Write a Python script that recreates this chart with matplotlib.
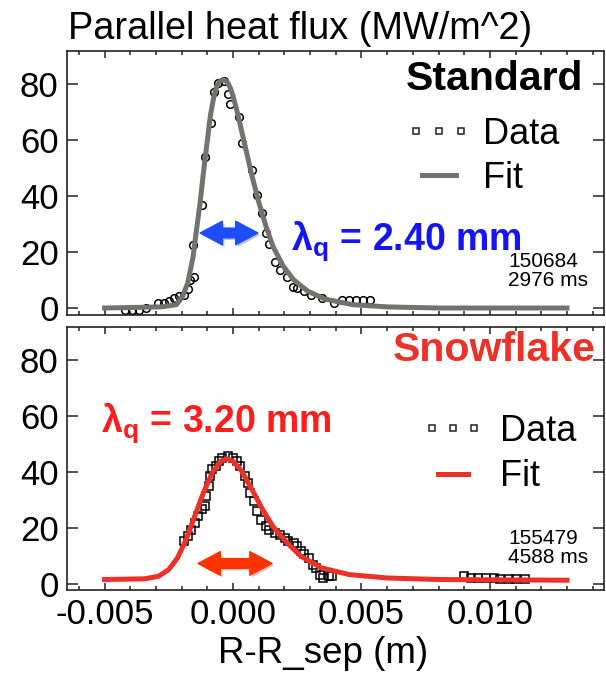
import matplotlib
matplotlib.use('Agg')
import matplotlib.pyplot as plt
import matplotlib.patheffects as pe
from matplotlib.lines import Line2D
from matplotlib.legend_handler import HandlerLine2D
from matplotlib.ticker import MultipleLocator

plt.rcParams['font.family'] = ['Liberation Sans', 'DejaVu Sans']
plt.rcParams['axes.unicode_minus'] = False
plt.rcParams['mathtext.fontset'] = 'custom'
plt.rcParams['mathtext.rm'] = 'Liberation Sans'
plt.rcParams['mathtext.bf'] = 'Liberation Sans:bold'
plt.rcParams['mathtext.it'] = 'Liberation Sans:italic'

# standard divertor, shot 150684
std_x = [-0.00419, -0.00392, -0.00365, -0.00338, -0.00291, -0.0027, -0.0025, -0.0023,
         -0.00209, -0.0019, -0.00175, -0.00167, -0.00151, -0.00157, -0.00122, -0.00109,
         -0.00086, -0.00073, -0.0006, -0.00036, -0.00018, -0.00012, 0.00025, 0.00034,
         0.00073, 0.00092, 0.00112, 0.00128, 0.00142, 0.00163, 0.00182, 0.00209,
         0.00235, 0.0025, 0.00277, 0.00304, 0.00345, 0.00392, 0.00426, 0.00453,
         0.0048, 0.00507, 0.00534]
std_y = [-0.6, -0.8, -0.6, 0.0, 1.8, 1.8, 2.4, 3.6,
         4.2, 4.8, 6.8, 10.0, 11.2, 22.5, 36.8, 54.0,
         66.2, 77.0, 80.3, 81.0, 76.4, 72.9, 68.1, 58.8,
         49.3, 40.4, 33.8, 26.7, 23.0, 16.5, 13.7, 11.2,
         7.6, 7.2, 6.0, 4.8, 3.6, 1.8, 3.0, 2.8,
         2.8, 2.8, 2.8]
std_fit_x = [-0.0050, -0.0028, -0.0022, -0.00196, -0.00176, -0.00155, -0.00142, -0.00128,
             -0.00115, -0.00101, -0.00088, -0.00074, -0.00064, -0.00054, -0.00045, -0.00036,
             -0.00028, -0.0002, -0.0001, 0.0, 0.0002, 0.00047, 0.00074, 0.00101, 0.00128,
             0.00155, 0.00196, 0.00236, 0.00291, 0.00358, 0.00466, 0.00601, 0.00804, 0.0130]
std_fit_y = [0.0, 0.4, 1.2, 4.2, 9.0, 18.5, 28.0, 37.6,
             48.4, 59.0, 68.7, 75.8, 78.8, 80.6, 81.4, 81.5,
             81.2, 80.4, 78.5, 75.8, 68.7, 57.9, 47.2, 37.6, 29.3,
             22.1, 14.9, 10.1, 6.0, 3.2, 1.2, 0.4, 0.0, 0.0]

# snowflake divertor, shot 155479
sf_x = [-0.00189, -0.00176, -0.00162, -0.00149, -0.00135, -0.00122, -0.00108, -0.00104,
        -0.00095, -0.00088, -0.00081, -0.00068, -0.00054, -0.00041, -0.0002, 0.0,
        0.00014, 0.00027, 0.00047, 0.00058, 0.00068, 0.00081, 0.00095, 0.00108,
        0.00128, 0.00142, 0.00162, 0.00182, 0.00203, 0.00216, 0.00236, 0.0025,
        0.00264, 0.00277, 0.00297, 0.00311, 0.00324, 0.00338, 0.00351, 0.00372,
        0.00385,
        0.00899, 0.00926, 0.00953, 0.00986, 0.01014, 0.0104, 0.01074, 0.01101, 0.01135]
sf_y = [15.3, 17.0, 19.4, 21.8, 24.2, 26.6, 27.8, 31.4,
        34.9, 38.5, 40.9, 42.1, 43.9, 45.1, 45.7, 45.1,
        43.9, 42.1, 38.5, 36.1, 32.5, 29.6, 26.0, 23.0,
        20.6, 19.4, 18.2, 17.6, 16.5, 15.3, 14.7, 13.5,
        11.7, 10.5, 9.3, 6.9, 5.7, 3.3, 2.1, 2.7,
        2.7,
        2.7, 2.1, 2.1, 2.1, 2.1, 1.8, 1.8, 1.8, 1.8]
sf_fit_x = [-0.0050, -0.00345, -0.0029, -0.0025, -0.00216, -0.00182, -0.00149, -0.00115,
            -0.00081, -0.00047, -0.00024, 0.0, 0.00034, 0.00074, 0.00115, 0.00155,
            0.0021, 0.00264, 0.00345, 0.00453, 0.00601, 0.00804, 0.0130]
sf_fit_y = [1.55, 1.8, 2.7, 5.1, 9.3, 15.9, 24.2, 32.6,
            39.7, 43.9, 44.7, 43.9, 40.3, 33.7, 26.6, 20.6,
            14.7, 9.9, 5.7, 3.3, 2.1, 1.55, 1.3]

std_arrow_x = [-0.00128, 0.00097]
std_arrow_y = 26.8
sf_arrow_x = [-0.00136, 0.00152]
sf_arrow_y = 7.3

gray = '#6f746c'
red = '#ec3228'
blue_txt = '#1414f5'
blue_arrow = '#1e4cff'
red_txt = '#ff1e1e'
red_arrow = '#ff3300'


def style(ax, ylo):
    ax.set_xlim(-0.00646, 0.01444)
    ax.set_ylim(ylo, 91.8)
    ax.set_yticks([0, 20, 40, 60, 80])
    ax.xaxis.set_major_locator(MultipleLocator(0.005))
    ax.xaxis.set_minor_locator(MultipleLocator(0.001))
    ax.tick_params(axis='both', which='both', direction='in', top=True, right=True,
                   labelsize=25, width=1.1, color='#222222')
    ax.tick_params(axis='y', which='major', length=8, pad=6)
    ax.tick_params(axis='x', which='major', length=5, pad=6)
    ax.tick_params(axis='x', which='minor', length=3)
    for s in ax.spines.values():
        s.set_linewidth(1.2)
        s.set_color('#222222')


def double_arrow(ax, xs, y, color):
    c = (xs[0] + xs[1]) / 2
    for end in xs:
        ax.annotate('', xy=(end, y), xytext=(c, y),
                    arrowprops=dict(arrowstyle='simple,head_length=1.6,head_width=1.7,tail_width=0.7',
                                    mutation_scale=10, color=color, shrinkA=0, shrinkB=0,
                                    path_effects=[pe.SimplePatchShadow(offset=(1.5, -1.5), alpha=0.25),
                                                  pe.Normal()]))


fig = plt.figure(figsize=(6.06, 6.74), dpi=100)
ax1 = fig.add_axes([0.1106, 0.5326, 0.8861, 0.3917])
ax2 = fig.add_axes([0.1106, 0.1246, 0.8861, 0.3902])

# top panel
ax1.plot(std_x, std_y, 'o', ms=5.5, mfc='none', mec='black', mew=1.1)
ax1.plot(std_fit_x, std_fit_y, '-', color=gray, lw=3.6)
style(ax1, -2.5)
ax1.tick_params(labelbottom=False)
ax1.text(0.961, 0.852, 'Standard', transform=ax1.transAxes, ha='right', va='baseline',
         fontsize=29.5, fontweight='bold', color='black')
h1 = Line2D([], [], ls='none', marker='s', ms=4, mfc='none', mec='#222222', mew=1.1)
h2 = Line2D([], [], color=gray, lw=3.6)
ax1.legend([h1, h2], ['Data', 'Fit'], loc='upper left', bbox_to_anchor=(0.64, 0.75),
           frameon=False, fontsize=26, borderpad=0, borderaxespad=0, numpoints=3,
           handlelength=1.55, handletextpad=0.45, labelspacing=0.25,
           handler_map={h1: HandlerLine2D(marker_pad=0.15)})
double_arrow(ax1, std_arrow_x, std_arrow_y, blue_arrow)
ax1.text(0.00226, 21.0, r'$\mathbf{\lambda_q}$ = 2.40 mm', color=blue_txt, fontsize=27,
         fontweight='bold', va='baseline')
ax1.text(0.821, 0.165, '150684\n2976 ms', transform=ax1.transAxes, ha='left', va='center',
         fontsize=15, linespacing=1.0)

# bottom panel
ax2.plot(sf_x, sf_y, 's', ms=5.5, mfc='none', mec='black', mew=1.1)
ax2.plot(sf_fit_x, sf_fit_y, '-', color=red, lw=3.6)
style(ax2, -2.2)
ax2.text(0.985, 0.871, 'Snowflake', transform=ax2.transAxes, ha='right', va='baseline',
         fontsize=29.5, fontweight='bold', color=red)
h3 = Line2D([], [], ls='none', marker='s', ms=4, mfc='none', mec='#222222', mew=1.1)
h4 = Line2D([], [], color=red, lw=3.6)
ax2.legend([h3, h4], ['Data', 'Fit'], loc='upper left', bbox_to_anchor=(0.67, 0.671),
           frameon=False, fontsize=26, borderpad=0, borderaxespad=0, numpoints=3,
           handlelength=1.45, handletextpad=0.58, labelspacing=0.3,
           handler_map={h3: HandlerLine2D(marker_pad=0.15)})
double_arrow(ax2, sf_arrow_x, sf_arrow_y, red_arrow)
ax2.text(-0.00514, 54.3, r'$\mathbf{\lambda_q}$ = 3.20 mm', color=red_txt, fontsize=27,
         fontweight='bold', va='baseline')
ax2.text(0.821, 0.16, '155479\n4588 ms', transform=ax2.transAxes, ha='left', va='center',
         fontsize=15, linespacing=1.0)

fig.text(68 / 606, 1 - 38.7 / 674, 'Parallel heat flux (MW/m^2)', ha='left', va='baseline',
         fontsize=27.3)
fig.text(218 / 606, 1 - 663 / 674, 'R-R_sep (m)', ha='left', va='baseline', fontsize=26.5)

fig.savefig('out.png', dpi=100)
